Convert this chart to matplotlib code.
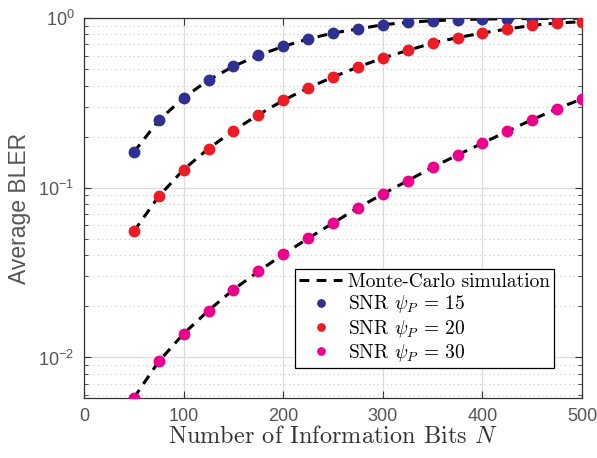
import matplotlib
matplotlib.use("Agg")
import matplotlib.pyplot as plt
from matplotlib.ticker import LogLocator, NullFormatter, FixedLocator

# ── Data ──────────────────────────────────────────────────────────────────────
N = [50, 75, 100, 125, 150, 175, 200, 225, 250, 275,
     300, 325, 350, 375, 400, 425, 450, 475, 500]

bler_15 = [0.162, 0.249, 0.339, 0.431, 0.519, 0.602, 0.680, 0.752, 0.816, 0.861,
           0.913, 0.942, 0.964, 0.977, 0.986, 0.990, 0.993, 0.996, 0.998]
bler_20 = [0.0553, 0.0889, 0.128, 0.170, 0.217, 0.269, 0.327, 0.387, 0.449, 0.514,
           0.581, 0.644, 0.712, 0.766, 0.816, 0.861, 0.905, 0.934, 0.951]
bler_30 = [0.00577, 0.00947, 0.0138, 0.0189, 0.0251, 0.0321, 0.0405, 0.0503, 0.0619, 0.0762,
           0.0918, 0.110, 0.132, 0.156, 0.183, 0.215, 0.252, 0.292, 0.334]

series = [
    (bler_15, "#2e3192", r"SNR $\psi_P \,=\, 15$"),
    (bler_20, "#ed1c24", r"SNR $\psi_P \,=\, 20$"),
    (bler_30, "#ec008c", r"SNR $\psi_P \,=\, 30$"),
]

# ── Style ─────────────────────────────────────────────────────────────────────
plt.rcParams.update({
    "font.family": ["Liberation Sans", "DejaVu Sans"],
    "mathtext.fontset": "cm",
    "xtick.direction": "in",
    "ytick.direction": "in",
})
GRAY = "#555555"
SERIF = ["cmr10", "DejaVu Serif"]

fig = plt.figure(figsize=(5.97, 4.58), dpi=100, facecolor="white")
ax = fig.add_axes([0.1407, 0.131, 0.8343, 0.8297])

# Monte-Carlo curves (one legend entry)
for i, (vals, col, lab) in enumerate(series):
    ax.plot(N, vals, color="black", ls=(0, (3.2, 2.4)), lw=2.2, zorder=2,
            label="Monte-Carlo simulation" if i == 0 else None)
for vals, col, lab in series:
    ax.plot(N, vals, ls="none", marker="o", ms=7.5, mfc=col, mec=col,
            zorder=3, label=lab)

ax.set_yscale("log")
ax.set_xlim(0, 500)
ax.set_ylim(0.00577, 1)
ax.xaxis.set_major_locator(FixedLocator([0, 100, 200, 300, 400, 500]))
ax.yaxis.set_major_locator(LogLocator(base=10, numticks=10))
ax.yaxis.set_minor_locator(LogLocator(base=10, subs=range(2, 10), numticks=20))
ax.yaxis.set_minor_formatter(NullFormatter())

ax.grid(which="major", color="#dcdcdc", lw=0.9, ls="-", zorder=0)
ax.grid(which="minor", axis="y", color="#c8c8c8", lw=0.8, ls=(0, (1, 3)), zorder=0)
ax.set_axisbelow(True)

ax.tick_params(which="both", top=True, right=True, colors="#333333",
               labelcolor=GRAY, labelsize=13, pad=7)
ax.tick_params(which="major", length=5, width=0.8)
ax.tick_params(which="minor", length=3, width=0.6)
for sp in ax.spines.values():
    sp.set_color("#333333")
    sp.set_linewidth(0.9)

ax.set_xlabel("Number of Information Bits $N$", fontsize=17.5, family=SERIF,
              color="#333333", labelpad=1)
ax.set_ylabel("Average BLER", fontsize=16.5, color=GRAY, labelpad=5)

leg = ax.legend(loc="lower right", bbox_to_anchor=(0.943, 0.079), borderaxespad=0,
                prop={"family": SERIF, "size": 14}, frameon=True, fancybox=False,
                framealpha=1, edgecolor="black", handlelength=2.2, handletextpad=0.3,
                labelspacing=0.12, borderpad=0.2, markerscale=0.7)
leg.get_frame().set_linewidth(0.9)

fig.savefig("out.png", dpi=100, facecolor="white")
